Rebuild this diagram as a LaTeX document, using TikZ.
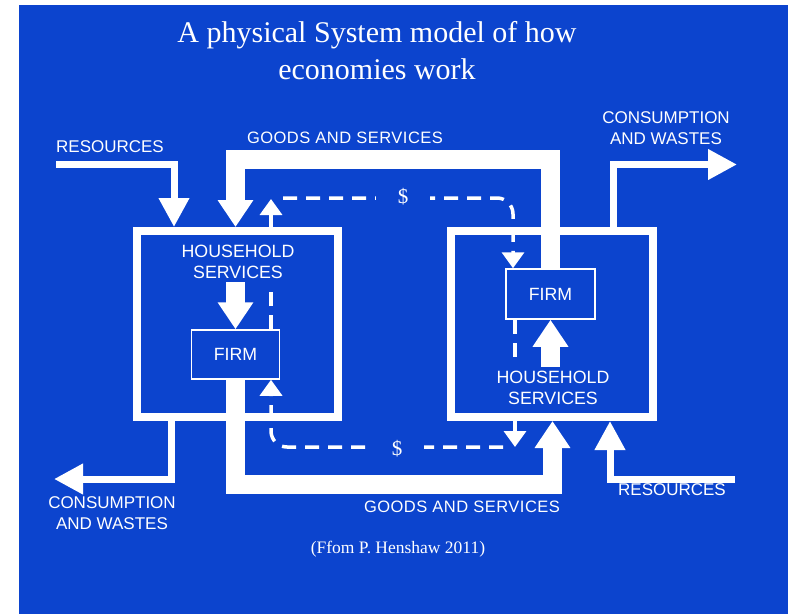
\documentclass[tikz,border=0pt]{standalone}
\usepackage{fontspec}
\setmainfont{Liberation Serif}
\setsansfont{Liberation Sans}
\newfontfamily\widecaps[LetterSpace=3]{Liberation Sans}
\usetikzlibrary{arrows.meta}
\definecolor{board}{RGB}{12,68,206}
\tikzset{
    sysbox/.style={draw=white, line width=8pt, minimum width=201pt, minimum height=186pt, inner sep=0pt},
    firmbox/.style={draw=white, line width=1.5pt, minimum width=88pt, minimum height=49pt, inner sep=0pt, text=white, font=\sffamily\fontsize{17.7}{20}\selectfont},
    caps/.style={text=white, align=center, inner sep=0pt, font=\sffamily\fontsize{17}{21}\selectfont},
    goods/.style={draw=white, line width=19pt, -{Triangle[width=34pt,length=27pt]}},
    flow/.style={draw=white, line width=7pt, -{Triangle[width=29pt,length=29pt]}},
    money/.style={draw=white, line width=3.5pt, dash pattern=on 14pt off 9pt},
    paid/.style={money, -{Triangle[width=22pt,length=16pt]}},
    cash/.style={fill=board, text=white, inner xsep=22pt, inner ysep=2pt, font=\fontsize{21}{21}\selectfont}
}
\begin{document}
\begin{tikzpicture}[x=1pt, y=-1pt]
  \useasboundingbox (0,0) rectangle (788,614);
  \fill[white] (0,0) rectangle (788,614);
  \fill[board] (19,5) rectangle (788,614);
  \node[text=white, align=center, font=\fontsize{30}{37}\selectfont] (title) at (377,51) {A physical System model of how\\economies work};
  \node[sysbox] (sysL) at (237.5,324) {};
  \node[sysbox, minimum width=202pt] (sysR) at (552,324) {};
  \node[firmbox] (firmL) at (235.5,354.5) {FIRM};
  \node[firmbox, minimum width=89pt, minimum height=50pt] (firmR) at (550.5,294) {FIRM};
  \node[caps, outer sep=4pt, font=\sffamily\fontsize{17.8}{21}\selectfont] (hhL) at (238,261.5) {HOUSEHOLD\\SERVICES};
  \node[caps, outer sep=4pt, font=\sffamily\fontsize{17.8}{21}\selectfont] (hhR) at (553,387.5) {HOUSEHOLD\\SERVICES};
  \node[caps, font=\fontsize{16.5}{21}\selectfont] (goodsT) at (345,138) {\widecaps GOODS AND SERVICES};
  \node[caps, font=\fontsize{16.5}{21}\selectfont] (goodsB) at (462,506.5) {\widecaps GOODS AND SERVICES};
  \node[caps] (resL) at (110,147) {RESOURCES};
  \node[caps] (resR) at (672,490) {RESOURCES};
  \node[caps] (wasteR) at (666,128.5) {CONSUMPTION\\AND WASTES};
  \node[caps] (wasteL) at (112,513.5) {CONSUMPTION\\AND WASTES};
  \node[text=white, font=\fontsize{17.5}{20}\selectfont] (credit) at (398,549) {(Ffom P. Henshaw 2011)};

  \coordinate (gtop) at (0,159);
  \coordinate (gbot) at (552.5,484);
  \draw[goods] (firmR.north) -- (firmR.north |- gtop) -| (sysL.north -| firmL);
  \draw[goods] (firmL.south) |- (gbot) -- (sysR.south -| gbot);
  \draw[goods] (hhL.south -| firmL) -- (firmL.north);
  \draw[goods] (hhR.north -| firmR) -- (firmR.south);

  \coordinate (srcL) at (56,164);
  \coordinate (sinkR) at (737,164.5);
  \coordinate (sinkL) at (54,479);
  \coordinate (srcR) at (735,479);
  \draw[flow] (srcL) -| (sysL.north -| 174,0);
  \draw[flow] (sysR.north -| 613,0) |- (sinkR);
  \draw[flow] (sysL.south -| 171,0) |- (sinkL);
  \draw[flow] (srcR) -| (sysR.south -| 610,0);

  \coordinate (payT) at (283,198);
  \coordinate (payB) at (503,447);
  \coordinate (tapL) at (271,288);
  \coordinate (outL) at (271,199);
  \coordinate (tapR) at (515,360);
  \coordinate (outR) at (515,447);
  \draw[paid, rounded corners=16pt] (payT) -| (firmR.north -| 513,0);
  \node[cash] (dollarT) at (403,197) {\$};
  \draw[money] (firmL.north -| tapL) -- (tapL);
  \draw[paid] (sysL.north -| outL) -- (outL);
  \draw[paid, rounded corners=16pt] (payB) -| (firmL.south -| outL);
  \node[cash] (dollarB) at (397,449) {\$};
  \draw[money] (firmR.south -| tapR) -- (tapR);
  \draw[paid] (sysR.south -| outR) -- (outR);
\end{tikzpicture}
\end{document}
